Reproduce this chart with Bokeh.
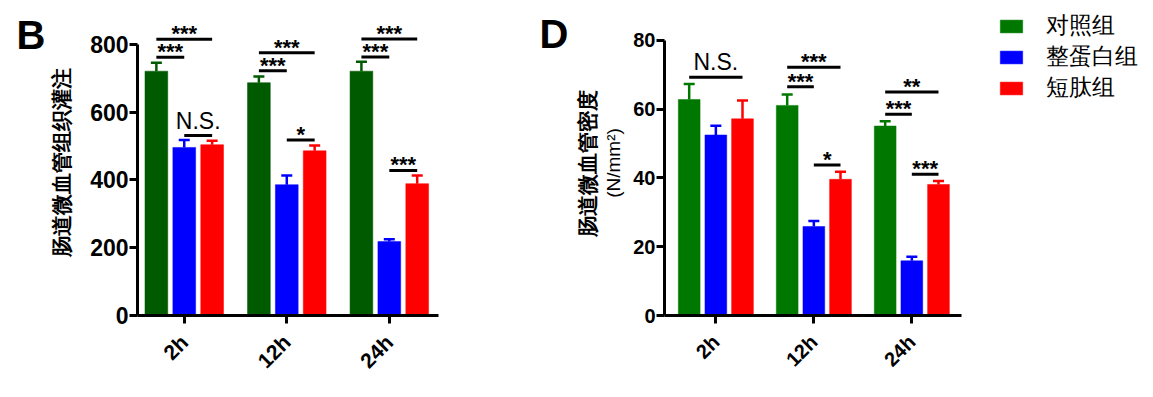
import numpy as np
from bokeh.plotting import figure
from bokeh.models import (ColumnDataSource, FixedTicker, Range1d, Whisker, TeeHead,
                          Label, Legend, LegendItem, LinearAxis)
from bokeh.layouts import row
from bokeh.core.properties import value
from bokeh.embed import file_html
from bokeh.resources import INLINE

times = ["2h", "12h", "24h"]
groups = ["对照组", "整蛋白组", "短肽组"]

# Panel B: intestinal microvascular tissue perfusion
perf_ctrl = [721, 687, 721]
perf_whole = [496, 386, 218]
perf_pep = [504, 486, 389]
perf_ctrl_err = [25, 18, 28]
perf_whole_err = [22, 27, 7]
perf_pep_err = [12, 16, 24]
perf_ticks = [0, 200, 400, 600, 800]
perf_sig_group = [0, 0, 0, 1, 1, 1, 2, 2, 2]
perf_sig_from = [0, 0, 1, 0, 0, 1, 0, 0, 1]
perf_sig_to = [1, 2, 2, 1, 2, 2, 1, 2, 2]
perf_sig_y = [762, 815, 531, 722, 775, 518, 763, 816, 428]
perf_sig_text = ["***", "***", "N.S.", "***", "***", "*", "***", "***", "***"]

# Panel D: intestinal microvascular density
dens_ctrl = [62.8, 61.1, 55.1]
dens_whole = [52.5, 25.9, 15.9]
dens_pep = [57.2, 39.6, 38.1]
dens_ctrl_err = [4.5, 3.2, 1.4]
dens_whole_err = [2.7, 1.6, 1.2]
dens_pep_err = [5.3, 2.2, 1.0]
dens_ticks = [0, 20, 40, 60, 80]
dens_sig_group = [0, 1, 1, 1, 2, 2, 2]
dens_sig_from = [0, 0, 0, 1, 0, 0, 1]
dens_sig_to = [2, 1, 2, 2, 1, 2, 2]
dens_sig_y = [69.3, 66.5, 72.2, 43.8, 58.5, 65.0, 41.1]
dens_sig_text = ["N.S.", "***", "***", "*", "***", "**", "***"]

FONT = "Liberation Sans"
OFFSETS = [-0.272, 0.0, 0.272]
BAR_W = 0.222
H = 396
TOP = 10          # frame top (all plots in the row share it)
BOTTOM = 81       # border below the frames
FRAME_BOTTOM = H - BOTTOM


def make_panel(width, border_left, x_range, x_bounds, y_top, y_bounds, ticks, means,
               errs, colors, sig_group, sig_from, sig_to, sig_y, sig_text, ytick_size,
               xtick_size):
    p = figure(width=width, height=H, output_backend="svg", toolbar_location=None,
               x_range=Range1d(*x_range), y_range=Range1d(0, y_top),
               min_border_left=border_left, min_border_right=0,
               min_border_top=TOP, min_border_bottom=BOTTOM)
    p.outline_line_color = None
    p.grid.visible = False
    pos = np.arange(len(times))
    renderers = []
    for k in range(3):
        xs = pos + OFFSETS[k]
        src = ColumnDataSource(dict(x=xs, top=means[k],
                                    upper=np.array(means[k]) + np.array(errs[k]),
                                    lower=means[k]))
        r = p.vbar(x="x", top="top", width=BAR_W, source=src, fill_color=colors[k],
                   line_color=colors[k], line_width=0.5)
        renderers.append(r)
        w = Whisker(base="x", upper="upper", lower="lower", source=src,
                    line_color=colors[k], line_width=2.5,
                    upper_head=TeeHead(size=11, line_color=colors[k], line_width=2.5),
                    lower_head=None)
        p.add_layout(w)
    # significance markers
    x0 = [g + OFFSETS[a] for g, a in zip(sig_group, sig_from)]
    x1 = [g + OFFSETS[b] for g, b in zip(sig_group, sig_to)]
    xm = [(a + b) / 2 for a, b in zip(x0, x1)]
    styles = ["normal" if t == "N.S." else "bold" for t in sig_text]
    sizes = ["23px" if t == "N.S." else "22px" for t in sig_text]
    yoff = [-2 if t == "N.S." else 7 for t in sig_text]
    ssrc = ColumnDataSource(dict(x0=x0, x1=x1, xm=xm, y=sig_y, text=sig_text,
                                 style=styles, size=sizes, yoff=yoff))
    p.segment(x0="x0", y0="y", x1="x1", y1="y", source=ssrc, line_color="black",
              line_width=3)
    p.text(x="xm", y="y", text="text", source=ssrc, text_font=value(FONT),
           text_font_style="style", text_font_size="size", y_offset="yoff",
           text_align="center", text_baseline="bottom", text_color="black")

    ya = p.yaxis[0]
    ya.ticker = FixedTicker(ticks=ticks)
    ya.bounds = y_bounds
    ya.minor_tick_line_color = None
    ya.major_tick_in = 0
    ya.major_tick_out = 8
    ya.major_tick_line_width = 3
    ya.axis_line_width = 3
    ya.major_label_text_font = FONT
    ya.major_label_text_font_style = "bold"
    ya.major_label_text_font_size = ytick_size
    ya.major_label_text_color = "black"
    ya.major_label_standoff = 1

    xa = p.xaxis[0]
    xa.ticker = FixedTicker(ticks=list(range(len(times))))
    xa.major_label_overrides = {i: t for i, t in enumerate(times)}
    xa.bounds = x_bounds
    xa.minor_tick_line_color = None
    xa.major_tick_in = 0
    xa.major_tick_out = 8
    xa.major_tick_line_width = 3
    xa.axis_line_width = 3
    xa.major_label_orientation = np.pi / 4
    xa.major_label_text_font = FONT
    xa.major_label_text_font_style = "bold"
    xa.major_label_text_font_size = xtick_size
    xa.major_label_text_color = "black"
    xa.major_label_standoff = 15
    return p, renderers


# narrow strip that holds the panel letter "B"
pb = figure(width=47, height=H, output_backend="svg", toolbar_location=None,
            x_axis_location=None, y_axis_location=None, x_range=Range1d(0, 1),
            y_range=Range1d(0, 1), min_border_left=0, min_border_right=0,
            min_border_bottom=BOTTOM, min_border_top=TOP)
pb.outline_line_color = None
pb.grid.visible = False
pb.add_layout(Label(x=45, y=FRAME_BOTTOM - 34, x_units="screen", y_units="screen",
                    text="B", text_font=FONT, text_font_style="bold",
                    text_font_size="40px", text_align="right", text_baseline="middle",
                    text_color="black"))

left_colors = ["#005a00", "#0000ff", "#ff0000"]
right_colors = ["#007800", "#0000ff", "#ff0000"]

# panel B (its frame reaches to the right so that the letter "D" sits inside it)
p1, _ = make_panel(524, 88, (-0.456, 3.777), (-0.456, 2.476), 900, (0, 800),
                   perf_ticks, [perf_ctrl, perf_whole, perf_pep],
                   [perf_ctrl_err, perf_whole_err, perf_pep_err], left_colors,
                   perf_sig_group, perf_sig_from, perf_sig_to, perf_sig_y, perf_sig_text,
                   "23px", "21px")
ya1 = p1.yaxis[0]
ya1.axis_label = "肠道微血管组织灌注"
ya1.axis_label_text_font = FONT
ya1.axis_label_text_font_style = "bold"
ya1.axis_label_text_font_size = "21px"
ya1.axis_label_text_color = "black"
ya1.axis_label_standoff = 14
p1.add_layout(Label(x=431, y=FRAME_BOTTOM - 33, x_units="screen", y_units="screen",
                    text="D", text_font=FONT, text_font_style="bold",
                    text_font_size="40px", text_align="right", text_baseline="middle",
                    text_color="black"))

# panel D
p2, rends = make_panel(567, 93, (-0.524, 4.313), (-0.524, 2.507), 88.7, (0, 80),
                       dens_ticks, [dens_ctrl, dens_whole, dens_pep],
                       [dens_ctrl_err, dens_whole_err, dens_pep_err], right_colors,
                       dens_sig_group, dens_sig_from, dens_sig_to, dens_sig_y,
                       dens_sig_text, "20px", "20px")
ya2 = p2.yaxis[0]
ya2.axis_label = "(N/mm²)"
ya2.axis_label_text_font = FONT
ya2.axis_label_text_font_style = "normal"
ya2.axis_label_text_font_size = "19px"
ya2.axis_label_text_color = "black"
ya2.axis_label_standoff = 6

title_axis = LinearAxis(ticker=FixedTicker(ticks=[]), bounds=(0, 80),
                        axis_line_color=None, major_tick_line_color=None,
                        minor_tick_line_color=None, major_tick_out=0, major_tick_in=0,
                        major_label_standoff=0, axis_label="肠道微血管密度",
                        axis_label_text_font=FONT, axis_label_text_font_style="bold",
                        axis_label_text_font_size="21px", axis_label_text_color="black",
                        axis_label_standoff=2)
p2.add_layout(title_axis, "left")

legend = Legend(items=[LegendItem(label=g, renderers=[r]) for g, r in zip(groups, rends)],
                location="top_right", margin=0, padding=3, border_line_color=None,
                background_fill_alpha=0, glyph_width=28, glyph_height=16,
                label_standoff=21, spacing=0, label_text_font=FONT,
                label_text_font_size="23px", label_text_color="black")
p2.add_layout(legend)

layout = row(pb, p1, p2)
open("out.html", "w").write(file_html(layout, INLINE))
